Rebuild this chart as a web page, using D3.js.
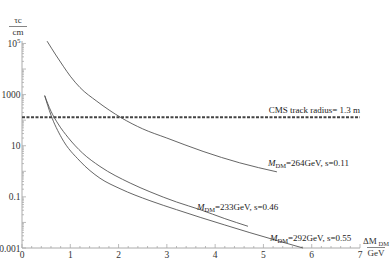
<!DOCTYPE html>
<html><head><meta charset="utf-8">
<script src="https://cdn.jsdelivr.net/npm/d3@7"></script>
<style>body{margin:0;background:#fff}svg{display:block}</style>
</head><body>
<svg id="c" width="392" height="280"></svg>
<script>
const xTicks = [0,1,2,3,4,5,6,7];
const yTickValues = [0.001, 0.1, 10, 1000, 1e5];
const yTickLabels = ["0.001","0.1","10","1000","10^5"];
const trackRadius = 130;
const trackLabel = "CMS track radius= 1.3 m";

const dm264 = [0.52,0.7,0.855,1.0,1.2,1.55,2.06,2.5,3.0,3.75,4.51,5.28];
const tau264 = [123000,35500,12900,5250,1900,550,123,45.7,20,6.0,2.14,0.95];
const dm233 = [0.47,0.6,0.75,0.96,1.25,1.615,2.24,2.65,3.2,3.69,4.2,4.68];
const tau233 = [912,224,70.8,20.4,5.25,1.55,0.347,0.158,0.063,0.0316,0.0141,0.00708];
const dm292 = [0.47,0.6,0.82,1.2,1.615,2.03,2.65,3.2,3.69,4.2,4.72,5.3,5.82];
const tau292 = [912,158,20.4,2.51,0.537,0.209,0.0708,0.0316,0.0158,0.00794,0.00398,0.00191,0.001];

const seriesLabels = [
  {m:"264GeV", s:"0.11"},
  {m:"233GeV", s:"0.46"},
  {m:"292GeV", s:"0.55"}
];

const svg = d3.select("#c");
const x = d3.scaleLinear().domain([0,7]).range([22,360]);
const y = d3.scaleLog().domain([0.001,1.25e5]).range([248,41]);
const font = "'Liberation Serif', 'DejaVu Serif', serif";
const axisCol = "#aaa", textCol = "#333";

// axes lines
svg.append("line").attr("x1",x(0)).attr("x2",x(7)).attr("y1",y(0.001)).attr("y2",y(0.001)).attr("stroke",axisCol).attr("stroke-width",1);
svg.append("line").attr("x1",x(0)).attr("x2",x(0)).attr("y1",y(0.001)).attr("y2",y(1.25e5)).attr("stroke",axisCol).attr("stroke-width",1);

// x ticks
const xMinor = d3.range(0,7.001,0.2);
svg.selectAll(".xm").data(xMinor).enter().append("line")
  .attr("x1",d=>x(d)).attr("x2",d=>x(d))
  .attr("y1",y(0.001)).attr("y2",d=>y(0.001)-(Math.abs(d-Math.round(d))<1e-6?4:2))
  .attr("stroke",axisCol).attr("stroke-width",0.8);
svg.selectAll(".xl").data(xTicks).enter().append("text")
  .attr("x",d=>x(d)).attr("y",258).attr("text-anchor","middle")
  .attr("font-family",font).attr("font-size",9.5).attr("fill",textCol).text(d=>d);

// y ticks
const yMinor = [];
for (let e=-3;e<=5;e++){ for(let k=1;k<=9;k++){ const v=k*Math.pow(10,e); if(v<=1.25e5) yMinor.push({v, major:k===1}); } }
svg.selectAll(".ym").data(yMinor).enter().append("line")
  .attr("x1",x(0)).attr("x2",d=>x(0)+(d.major?4:2))
  .attr("y1",d=>y(d.v)).attr("y2",d=>y(d.v))
  .attr("stroke",axisCol).attr("stroke-width",0.8);
yTickValues.forEach((v,i)=>{
  const t = svg.append("text").attr("x",20.5).attr("y",y(v)+3.5).attr("text-anchor","end")
    .attr("font-family",font).attr("font-size",9.5).attr("fill",textCol);
  const lab = yTickLabels[i];
  if (lab.includes("^")) {
    const [b,p] = lab.split("^");
    t.append("tspan").text(b);
    t.append("tspan").attr("dy",-4).attr("font-size",7).text(p);
  } else t.text(lab);
});

// axis titles
function frac(cx, top, bottom, yTop, yLine, yBot, tsub){
  const g = svg.append("g");
  const t1 = g.append("text").attr("x",cx).attr("y",yTop).attr("text-anchor","middle")
    .attr("font-family",font).attr("font-size",9).attr("fill",textCol);
  t1.append("tspan").text(top);
  if (tsub) t1.append("tspan").attr("dy",2).attr("font-size",6.5).text(tsub);
  g.append("line").attr("x1",cx-9).attr("x2",cx+9).attr("y1",yLine).attr("y2",yLine).attr("stroke",textCol).attr("stroke-width",0.6);
  g.append("text").attr("x",cx).attr("y",yBot).attr("text-anchor","middle")
    .attr("font-family",font).attr("font-size",9).attr("fill",textCol).text(bottom);
}
frac(18,"τc","cm",23,26.5,35,null);
frac(376,"ΔM","GeV",244,247.5,256," DM");

// dashed line
svg.append("line").attr("x1",x(0)).attr("x2",x(7)).attr("y1",y(trackRadius)).attr("y2",y(trackRadius))
  .attr("stroke","#444").attr("stroke-width",2).attr("stroke-dasharray","3,1.5");
svg.append("text").attr("x",360).attr("y",y(trackRadius)-4).attr("text-anchor","end")
  .attr("font-family",font).attr("font-size",9).attr("fill","#222").text(trackLabel);

// curves
const line = d3.line().x(d=>x(d[0])).y(d=>y(d[1])).curve(d3.curveMonotoneX);
[[dm264,tau264],[dm233,tau233],[dm292,tau292]].forEach(([a,b])=>{
  svg.append("path").attr("d",line(a.map((v,i)=>[v,b[i]])))
    .attr("fill","none").attr("stroke","#555").attr("stroke-width",0.9);
});

// series labels
const labPos = [[268,166],[197,210],[270,241]];
seriesLabels.forEach((s,i)=>{
  const t = svg.append("text").attr("x",labPos[i][0]).attr("y",labPos[i][1])
    .attr("font-family",font).attr("font-size",9).attr("fill","#222");
  t.append("tspan").attr("font-style","italic").text("M");
  t.append("tspan").attr("dy",1.5).attr("font-size",6.5).text("DM");
  t.append("tspan").attr("dy",-1.5).text("="+s.m+", s="+s.s);
});
</script>
</body></html>
